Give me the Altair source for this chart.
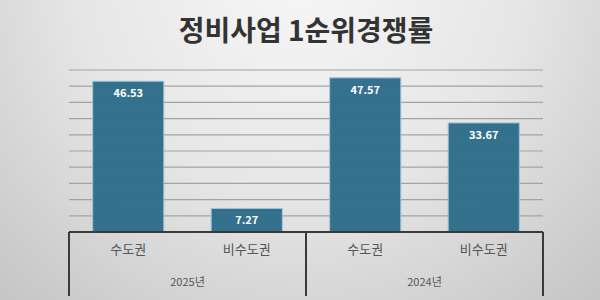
import altair as alt
import pandas as pd

years = ["2025년", "2025년", "2024년", "2024년"]
regions = ["수도권", "비수도권", "수도권", "비수도권"]
values = [46.53, 7.27, 47.57, 33.67]
year_order = ["2025년", "2024년"]
grid_values = [5, 10, 15, 20, 25, 30, 35, 40, 45, 50]
title_text = "정비사업 1순위경쟁률"

keys = [f"{y} {r}" for y, r in zip(years, regions)]
df = pd.DataFrame({"key": keys, "year": years, "region": regions, "value": values})
ydf = pd.DataFrame({"year": year_order})
gdf = pd.DataFrame({"value": grid_values})

W, H = 474, 162
FONT = "Noto Sans CJK KR"
yscale = alt.Scale(domain=[0, 50], nice=False)

xbar = alt.X("key:N", sort=keys, axis=None,
             scale=alt.Scale(paddingInner=0.4, paddingOuter=0.2))
yval = alt.Y("value:Q", axis=None, scale=yscale)

bg = alt.Chart(pd.DataFrame({"a": [0]})).mark_rect(
    fill=alt.RadialGradient(gradient="radial", x1=0.5, y1=0.2, r1=0.0, x2=0.5, y2=0.2, r2=0.75,
                            stops=[alt.GradientStop(color="#f7f7f7", offset=0),
                                   alt.GradientStop(color="#e6e6e6", offset=0.5),
                                   alt.GradientStop(color="#c4c4c4", offset=1)])
).encode(x=alt.value(-69), x2=alt.value(531), y=alt.value(-70), y2=alt.value(230))

grid = alt.Chart(gdf).mark_rule(color="#a3a3a3", strokeWidth=1.2).encode(y=yval)

bars = alt.Chart(df).mark_bar(color="#2f6e8b", stroke="#9fc3d6", strokeWidth=1, opacity=0.97).encode(
    x=xbar, y=yval)

labels = alt.Chart(df).mark_text(color="white", font=FONT, fontWeight="bold", fontSize=11,
                                 baseline="middle", dy=13).encode(
    x=xbar, y=yval, text=alt.Text("value:Q", format=".2f"))

cats = alt.Chart(df).mark_text(color="#555555", font=FONT, fontSize=13, baseline="middle").encode(
    x=xbar, y=alt.value(H + 18), text="region:N")

xyear = alt.X("year:N", sort=year_order, axis=None, scale=alt.Scale(paddingInner=0, paddingOuter=0))

year_labels = alt.Chart(ydf).mark_text(color="#555555", font=FONT, fontSize=11, baseline="middle").encode(
    x=xyear, y=alt.value(H + 51), text="year:N")

sep_left = alt.Chart(ydf).mark_rule(color="#3a3a3a", strokeWidth=2).encode(
    x=alt.X("year:N", sort=year_order, axis=None, bandPosition=0,
            scale=alt.Scale(paddingInner=0, paddingOuter=0)),
    y=alt.value(H), y2=alt.value(226))

sep_right = alt.Chart(ydf).mark_rule(color="#3a3a3a", strokeWidth=2).encode(
    x=alt.X("year:N", sort=year_order, axis=None, bandPosition=1,
            scale=alt.Scale(paddingInner=0, paddingOuter=0)),
    y=alt.value(H), y2=alt.value(226))

baseline = alt.Chart(pd.DataFrame({"a": [0]})).mark_rule(color="#3a3a3a", strokeWidth=2).encode(
    y=alt.datum(0, scale=yscale))

chart = alt.layer(bg, grid, bars, labels, cats, year_labels, sep_left, sep_right, baseline).resolve_scale(
    x="independent", y="shared"
).properties(
    width=W, height=H,
    title=alt.Title(title_text, font=FONT, fontSize=28, fontWeight="bold", color="#333333",
                    anchor="middle", frame="group", offset=-47),
    autosize=alt.AutoSizeParams(type="none"),
    padding={"left": 69, "top": 70, "right": 57, "bottom": 68},
).configure_view(stroke=None).configure(background="#d8d8d8")

chart.save("out.html", embed_options={"renderer": "svg", "actions": False})
